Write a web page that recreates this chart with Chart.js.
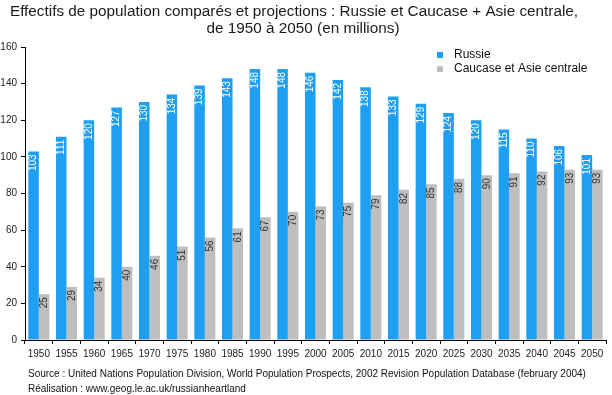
<!DOCTYPE html>
<html>
<head>
<meta charset="utf-8">
<script src="https://cdn.jsdelivr.net/npm/chart.js@4.4.1/dist/chart.umd.min.js"></script>
<style>
  html, body { margin: 0; padding: 0; background: #fff; }
  #wrap { width: 612px; height: 395px; position: relative; }
</style>
</head>
<body>
<div id="wrap"><canvas id="chart" width="612" height="395"></canvas></div>
<script>
// years on the x axis
const years = ["1950", "1955", "1960", "1965", "1970", "1975", "1980", "1985", "1990", "1995", "2000",
  "2005", "2010", "2015", "2020", "2025", "2030", "2035", "2040", "2045", "2050"];
// population in millions
const russie = [103, 111, 120, 127, 130, 134, 139, 143, 148, 148, 146, 142, 138, 133, 129, 124, 120, 115, 110, 106, 101];
const caucaseAsie = [25, 29, 34, 40, 46, 51, 56, 61, 67, 70, 73, 75, 79, 82, 85, 88, 90, 91, 92, 93, 93];
const yTicks = [0, 20, 40, 60, 80, 100, 120, 140, 160];

const titleLines = [
  "Effectifs de population comparés et projections : Russie et Caucase + Asie centrale,",
  "de 1950 à 2050 (en millions)",
];
const sourceLines = [
  "Source : United Nations Population Division, World Population Prospects, 2002 Revision Population Database (february 2004)",
  "Réalisation : www.geog.le.ac.uk/russianheartland",
];

const FONT = '"Liberation Sans", Arial, sans-serif';
const BLUE = "#1e9ff2";
const GREY = "#bebebe";

/* == value labels, written upwards inside the top of each bar == */
const barLabels = {
  id: "barLabels",
  afterDatasetsDraw(chart) {
    const ctx = chart.ctx;
    ctx.save();
    ctx.font = "10px " + FONT;
    ctx.textAlign = "right";
    ctx.textBaseline = "middle";
    chart.data.datasets.forEach((ds, i) => {
      const meta = chart.getDatasetMeta(i);
      ctx.fillStyle = i === 0 ? "#ffffff" : "#333333";
      meta.data.forEach((bar, j) => {
        ctx.save();
        ctx.translate(bar.x, bar.y);
        ctx.rotate(-Math.PI / 2);
        ctx.fillText(String(ds.data[j]), -3, 0);
        ctx.restore();
      });
    });
    ctx.restore();
  },
};

/* == title, legend and source text == */
const decorations = {
  id: "decorations",
  afterDraw(chart) {
    const ctx = chart.ctx;
    ctx.save();
    ctx.fillStyle = "#1a1a1a";
    ctx.textAlign = "center";
    ctx.textBaseline = "alphabetic";
    ctx.font = "15.3px " + FONT;
    ctx.fillText(titleLines[0], 294, 16);
    ctx.fillText(titleLines[1], 303, 33);

    // legend
    ctx.textAlign = "left";
    ctx.textBaseline = "middle";
    ctx.font = "12px " + FONT;
    chart.data.datasets.forEach((ds, i) => {
      const y = 55 + i * 14;
      ctx.fillStyle = ds.backgroundColor;
      ctx.fillRect(437, y - 3, 6, 6);
      ctx.fillStyle = "#111";
      ctx.fillText(ds.label, 454, y);
    });

    // source
    ctx.font = "10px " + FONT;
    ctx.fillStyle = "#111";
    ctx.fillText(sourceLines[0], 28, 374);
    ctx.fillText(sourceLines[1], 28, 389);
    ctx.restore();
  },
};

const config = {
  type: "bar",
  data: {
    labels: years,
    datasets: [
      { label: "Russie", data: russie, backgroundColor: BLUE },
      { label: "Caucase et Asie centrale", data: caucaseAsie, backgroundColor: GREY },
    ],
  },
  options: {
    responsive: false,
    animation: false,
    events: [],
    layout: { padding: { top: 47, right: 6, bottom: 33, left: 0 } },
    datasets: { bar: { categoryPercentage: 0.76, barPercentage: 1.0 } },
    plugins: {
      legend: { display: false },
      title: { display: false },
      tooltip: { enabled: false },
    },
    scales: {
      x: {
        grid: { display: true, drawOnChartArea: false, offset: true, color: "#000", tickLength: 4, tickColor: "#000" },
        border: { color: "#000", width: 1 },
        ticks: { font: { family: FONT, size: 10 }, color: "#222", padding: 4, maxRotation: 0, autoSkip: false },
        afterFit(scale) { scale.height = 22; },
      },
      y: {
        min: 0,
        max: 160,
        afterBuildTicks(scale) { scale.ticks = yTicks.map((v) => ({ value: v })); },
        grid: { display: true, drawOnChartArea: false, color: "#000", tickLength: 4, tickColor: "#000" },
        border: { color: "#000", width: 1 },
        ticks: { font: { family: FONT, size: 10 }, color: "#222", padding: 4 },
        afterFit(scale) { scale.width = 25; },
      },
    },
  },
  plugins: [barLabels, decorations],
};

new Chart(document.getElementById("chart"), config);
</script>
</body>
</html>
